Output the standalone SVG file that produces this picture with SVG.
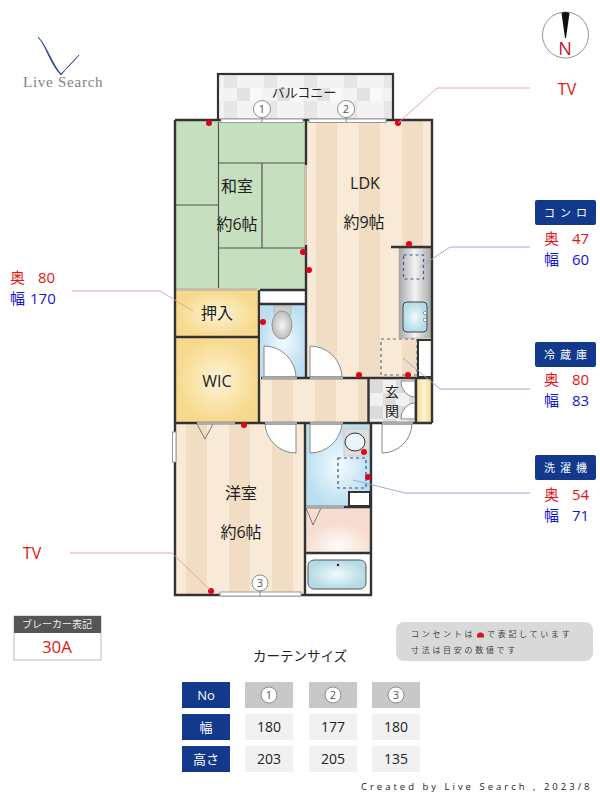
<svg xmlns="http://www.w3.org/2000/svg" width="600" height="800" viewBox="0 0 600 800">
<style>
text{font-family:"Open Sans","Noto Sans CJK JP",sans-serif;fill:#222}
.m{text-anchor:middle}
.rm{font-size:16px;text-anchor:middle}
.w{fill:none;stroke:#333;stroke-width:2.4}
.thin{fill:none;stroke:#555;stroke-width:1.2}
.sill{fill:#fff;stroke:#999;stroke-width:1}
.door{fill:#fff;stroke:#888;stroke-width:1}
.thr{fill:#aaa}
.dash{fill:none;stroke-width:1.2;stroke-dasharray:3 3}
.dot{fill:#e0001b}
.pink{fill:none;stroke:#e79aa8;stroke-width:.9}
.blue{fill:none;stroke:#8fa6cc;stroke-width:.9}
.red{fill:#e31414;font-size:15px}
.bl{fill:#1414d8;font-size:15px}
.nv{fill:#12398c}
.hd{fill:#fff;font-size:11px;text-anchor:middle;letter-spacing:5px}
.th{fill:#fff;font-size:13px;text-anchor:middle}
.td{font-size:14px;text-anchor:middle}
.c{fill:#fff;stroke:#777;stroke-width:.8}
.cn{font-size:11px;text-anchor:middle;fill:#555}
.note{font-size:8px;fill:#444;letter-spacing:2.7px}
</style>
<defs>
<pattern id="st" patternUnits="userSpaceOnUse" x="316" y="0" width="43" height="10"><rect width="43" height="10" fill="#f8ead6"/><rect width="21" height="10" fill="#f1dcc4"/></pattern>
<pattern id="st2" patternUnits="userSpaceOnUse" x="186" y="0" width="43" height="10"><rect width="43" height="10" fill="#f8ead6"/><rect width="21" height="10" fill="#f1dcc4"/></pattern>
<pattern id="st3" patternUnits="userSpaceOnUse" x="272" y="0" width="43" height="10"><rect width="43" height="10" fill="#f8ead6"/><rect width="21" height="10" fill="#f1dcc4"/></pattern>
<pattern id="tile" patternUnits="userSpaceOnUse" x="221" y="75" width="40" height="39"><rect width="40" height="39" fill="#f3f3f3"/><rect x="3" width="13" height="13" fill="#e6e6e6"/><rect x="16" y="13" width="13" height="13" fill="#e2e2e2"/><rect x="3" y="26" width="13" height="13" fill="#e6e6e6"/><rect x="29" y="13" width="11" height="13" fill="#fafafa"/></pattern>
<pattern id="gt" patternUnits="userSpaceOnUse" x="370" y="380" width="26" height="26"><rect width="26" height="26" fill="#f1f1f1"/><rect width="13" height="13" fill="#dcdcdc"/><rect x="13" y="13" width="13" height="13" fill="#dcdcdc"/></pattern>
<radialGradient id="yl"><stop offset="0" stop-color="#fdf3d6"/><stop offset="1" stop-color="#f6d98c"/></radialGradient>
<radialGradient id="bw"><stop offset="0" stop-color="#f4fbfe"/><stop offset="1" stop-color="#bcdff0"/></radialGradient>
<radialGradient id="pk" cy="0.85"><stop offset="0" stop-color="#fffdfb"/><stop offset="1" stop-color="#f7ddd0"/></radialGradient>
<radialGradient id="tb"><stop offset="0" stop-color="#f0fafc"/><stop offset="1" stop-color="#b3dbe3"/></radialGradient>
<linearGradient id="mt"><stop offset="0" stop-color="#a8a8a8"/><stop offset=".5" stop-color="#f4f4f4"/><stop offset="1" stop-color="#a8a8a8"/></linearGradient>
<linearGradient id="sy"><stop offset="0" stop-color="#f6d98c"/><stop offset=".5" stop-color="#fdf3d6"/><stop offset="1" stop-color="#f6d98c"/></linearGradient>
<radialGradient id="gb"><stop offset="0" stop-color="#f4f4f4"/><stop offset="1" stop-color="#bdbdbd"/></radialGradient>
</defs>

<g id="logo">
<path d="M38 37C46 45 50 64 61 75C66 68 73 62 79 55C73 62 67 68 61 74C52 64 47 46 38 37Z" fill="#1d3f8c" stroke="#1d3f8c" stroke-width=".7"/>
<text x="23" y="87" font-size="15" letter-spacing=".75" style="font-family:'Liberation Serif',serif;fill:#808080">Live Search</text>
</g>
<g id="compass">
<circle cx="565.500" cy="35" r="23" fill="#fff" stroke="#777" stroke-width=".8"/>
<path d="M561.500 13Q565.500 11 569.500 13L566 38H565Z" fill="#111"/>
<text x="565" y="55" font-size="18" class="m" style="fill:#c8102e">N</text>
</g>

<g id="balcony">
<rect x="218" y="74" width="175" height="47" fill="url(#tile)" stroke="#333" stroke-width="2.2"/>
<text x="304" y="97" font-size="13" class="m">バルコニー</text>
</g>
<g id="washitsu">
<rect x="176" y="121" width="130" height="169" fill="#c5dfbf"/>
<path class="thin" d="M218.500 122V290M218.500 163H305M262 163V248M218.500 248H305M176 205H218.500"/>
<rect x="304" y="165" width="3.500" height="80" fill="#c9bfa5"/>
<rect x="176" y="288" width="81" height="3" fill="#c9bfa5"/>
<text x="237" y="192" class="rm">和室</text><text x="237" y="230" class="rm">約6帖</text>
</g>
<g id="ldk">
<rect x="307" y="121" width="125" height="257" fill="url(#st)"/>
<text x="365" y="189" class="rm">LDK</text><text x="364" y="228" class="rm">約9帖</text>
</g>
<g id="kitchen">
<rect x="399" y="248" width="32" height="90" fill="url(#mt)" stroke="#aaa" stroke-width=".6"/>
<rect x="403.500" y="255" width="20" height="24" class="dash" stroke="#3a5a99"/>
<rect x="403" y="302" width="24" height="30" rx="4" fill="url(#tb)" stroke="#445" stroke-width="1"/>
<circle cx="425" cy="313" r="1.700" fill="#fff" stroke="#666" stroke-width=".6"/><circle cx="425" cy="320" r="1.700" fill="#fff" stroke="#666" stroke-width=".6"/>
<path class="w" d="M391 247H431"/>
<rect x="381" y="339" width="36" height="36" class="dash" stroke="#666"/>
<rect x="418" y="340" width="14" height="37" fill="#fff" stroke="#333" stroke-width="2"/>
</g>
<g id="oshiire">
<rect x="176" y="291" width="83" height="46" fill="url(#yl)"/>
<text x="217" y="319" class="rm">押入</text>
</g>
<g id="wic">
<rect x="176" y="338" width="83" height="84" fill="url(#yl)"/>
<text x="217" y="387" class="rm">WIC</text>
</g>
<g id="toilet">
<rect x="261" y="291" width="45" height="13" fill="#fff"/>
<rect x="261" y="304" width="45" height="74" fill="url(#bw)"/>
<rect x="274" y="306" width="17" height="9" fill="#ccc" stroke="#aaa" stroke-width=".6"/>
<ellipse cx="282" cy="325" rx="10" ry="14" fill="url(#gb)" stroke="#888" stroke-width=".8"/>
<path class="door" d="M264 377V346A32 32 0 0 1 296 377Z"/>
</g>
<g id="hall">
<rect x="260" y="379" width="108" height="43" fill="url(#st3)"/>
</g>
<g id="genkan">
<rect x="369" y="379" width="47" height="43" fill="url(#gt)"/>
<path class="door" d="M415 381V397A15 15 0 0 1 401 381ZM415 419V403A15 15 0 0 0 401 419Z"/>
<text x="392" y="397" font-size="14" class="m">玄</text><text x="392" y="416" font-size="14" class="m">関</text>
</g>
<g id="shoebox">
<rect x="416" y="379" width="16" height="43" fill="url(#sy)"/>
</g>
<g id="yoshitsu">
<rect x="176" y="424" width="129" height="170" fill="url(#st2)"/>
<path d="M197 424L205 439L213 424" fill="none" stroke="#777" stroke-width="1"/>
<path class="door" d="M296 424V453A31 31 0 0 1 265 424Z"/>
<text x="241" y="499" class="rm">洋室</text><text x="241" y="538" class="rm">約6帖</text>
</g>
<g id="washroom">
<rect x="306" y="424" width="65" height="83" fill="url(#bw)"/>
<path class="door" d="M310 424V453A32 32 0 0 0 342 424Z"/>
<rect x="344" y="429" width="25" height="27" fill="#dedede" stroke="#bbb" stroke-width=".6"/>
<ellipse cx="355" cy="442" rx="10" ry="9" fill="#eaf5fa" stroke="#333" stroke-width="1"/>
<rect x="338" y="458" width="28" height="30" class="dash" stroke="#2f4f8f"/>
<rect x="349" y="492" width="21" height="14" fill="#fff" stroke="#333" stroke-width="2"/>
</g>
<g id="dressing">
<rect x="306" y="508" width="65" height="45" fill="url(#pk)"/>
<path d="M306 508L313 525L321 508" fill="none" stroke="#777" stroke-width="1"/>
</g>
<g id="bath">
<rect x="306" y="554" width="65" height="40" fill="#fff"/>
<rect x="308" y="560" width="58" height="29" rx="6" fill="url(#tb)" stroke="#555" stroke-width="1"/>
<circle cx="338" cy="565" r="1.200" fill="#222"/>
</g>
<g id="entry-door"><path class="door" d="M382 424V453A30 30 0 0 0 412 424Z"/></g>
<g id="ldk-door"><path class="door" d="M310 377V346A32 32 0 0 1 342 377Z"/></g>

<g id="walls">
<path class="w" d="M175 120H432V423M175 120V595H371V423M306 120V165M306 245V378M175 337H259M259 290V422M175 423H432M260 290H306M260 304H306M261 378H432M368.500 378V422M416 378V423M305 423V595M306 507H371M306 553H371"/>
<path class="thr" d="M262 377h35v2.500h-35zM310 377h33v2.500h-33zM197 422h38v2.500h-38zM265 422h32v2.500h-32zM310 422h33v2.500h-33zM306 506h38v2.500h-38zM382 422h31v2.500h-31z"/>
</g>
<g id="windows">
<rect class="sill" x="221" y="119" width="82" height="3.500"/><rect class="sill" x="309" y="119" width="77" height="3.500"/>
<rect class="sill" x="220" y="592" width="81" height="4"/><rect class="sill" x="172.500" y="432" width="3.500" height="30"/>
<path d="M262 117V122M346 117V122M260 591V596" stroke="#888" fill="none"/>
<circle class="c" cx="262" cy="109" r="8.500"/><text class="cn" x="262" y="113">1</text>
<circle class="c" cx="346" cy="109" r="8.500"/><text class="cn" x="346" y="113">2</text>
<circle class="c" cx="260" cy="583" r="8"/><text class="cn" x="260" y="587">3</text>
</g>
<g id="outlets">
<circle class="dot" cx="209" cy="123" r="3"/><circle class="dot" cx="398" cy="123" r="3"/><circle class="dot" cx="409" cy="244" r="3"/>
<circle class="dot" cx="303" cy="252" r="3"/><circle class="dot" cx="309" cy="270" r="3"/><circle class="dot" cx="263" cy="322" r="3"/>
<circle class="dot" cx="359" cy="375" r="3"/><circle class="dot" cx="408" cy="375" r="3"/><circle class="dot" cx="244" cy="425" r="3"/>
<circle class="dot" cx="211" cy="591" r="3"/><circle class="dot" cx="364" cy="452" r="3"/><circle class="dot" cx="368" cy="477" r="3"/>
</g>
<g id="connectors">
<path class="pink" d="M398 123L437 88H530"/>
<path class="pink" d="M72 291H160L193 311"/>
<path class="pink" d="M70 553H172L210 590"/>
<path class="blue" d="M420 267L450 247H530"/>
<path class="blue" d="M403 358L440 389H530"/>
<path class="blue" d="M353 480L405 493H530"/>
</g>
<g id="tv-top"><text x="567" y="95" font-size="16" class="m" style="fill:#e31414">TV</text></g>
<g id="tv-left"><text x="32" y="559" font-size="16" class="m" style="fill:#e31414">TV</text></g>
<g id="closet-size">
<text x="10" y="283" class="red">奥</text><text x="38" y="283" class="red">80</text>
<text x="10" y="304" class="bl">幅</text><text x="30" y="304" class="bl">170</text>
</g>
<g id="konro">
<rect x="535" y="200" width="61" height="25" rx="2" class="nv"/><text x="568" y="217" class="hd">コンロ</text>
<text x="544" y="244" class="red">奥</text><text x="572" y="244" class="red">47</text>
<text x="544" y="265" class="bl">幅</text><text x="572" y="265" class="bl">60</text>
</g>
<g id="fridge">
<rect x="535" y="342" width="61" height="25" rx="2" class="nv"/><text x="568" y="359" class="hd">冷蔵庫</text>
<text x="544" y="385" class="red">奥</text><text x="572" y="385" class="red">80</text>
<text x="544" y="406" class="bl">幅</text><text x="572" y="406" class="bl">83</text>
</g>
<g id="washer">
<rect x="535" y="455" width="61" height="25" rx="2" class="nv"/><text x="568" y="472" class="hd">洗濯機</text>
<text x="544" y="500" class="red">奥</text><text x="572" y="500" class="red">54</text>
<text x="544" y="521" class="bl">幅</text><text x="572" y="521" class="bl">71</text>
</g>
<g id="breaker">
<rect x="14" y="616" width="87" height="44" fill="#fff" stroke="#bbb"/>
<rect x="14" y="616" width="87" height="17" fill="#555"/>
<text x="57" y="628" font-size="10" class="m" style="fill:#eee">ブレーカー表記</text>
<text x="57" y="653" font-size="17" class="m" style="fill:#e31414">30A</text>
</g>
<g id="note">
<rect x="396" y="622" width="197" height="39" rx="8" fill="#d9d9d9"/>
<text x="411" y="637" class="note">コンセントは</text>
<path d="M477 637.500v-1.500a3.500 3.500 0 0 1 7 0v1.500Z" fill="#d5151f"/>
<text x="487" y="637" class="note">で表記しています</text>
<text x="411" y="653" class="note">寸法は目安の数値です</text>
</g>
<g id="curtain">
<text x="300" y="661" font-size="13.500" class="m">カーテンサイズ</text>
<rect x="182" y="682" width="48" height="26" class="nv"/><text x="206" y="700" class="th">No</text>
<rect x="182" y="714" width="48" height="26" class="nv"/><text x="206" y="732" class="th">幅</text>
<rect x="182" y="746" width="48" height="26" class="nv"/><text x="206" y="764" class="th">高さ</text>
<rect x="245" y="682" width="48" height="26" fill="#c8c8c8"/><circle class="c" cx="269" cy="695" r="8"/><text class="cn" x="269" y="699">1</text>
<rect x="309" y="682" width="48" height="26" fill="#c8c8c8"/><circle class="c" cx="333" cy="695" r="8"/><text class="cn" x="333" y="699">2</text>
<rect x="372" y="682" width="48" height="26" fill="#c8c8c8"/><circle class="c" cx="396" cy="695" r="8"/><text class="cn" x="396" y="699">3</text>
<rect x="245" y="714" width="48" height="26" fill="#f1f1f1"/><text x="269" y="732" class="td">180</text>
<rect x="309" y="714" width="48" height="26" fill="#f1f1f1"/><text x="333" y="732" class="td">177</text>
<rect x="372" y="714" width="48" height="26" fill="#f1f1f1"/><text x="396" y="732" class="td">180</text>
<rect x="245" y="746" width="48" height="26" fill="#f1f1f1"/><text x="269" y="764" class="td">203</text>
<rect x="309" y="746" width="48" height="26" fill="#f1f1f1"/><text x="333" y="764" class="td">205</text>
<rect x="372" y="746" width="48" height="26" fill="#f1f1f1"/><text x="396" y="764" class="td">135</text>
</g>
<g id="credit"><text x="361" y="790" font-size="9.500" letter-spacing="3">Created by Live Search , 2023/8</text></g>
</svg>
